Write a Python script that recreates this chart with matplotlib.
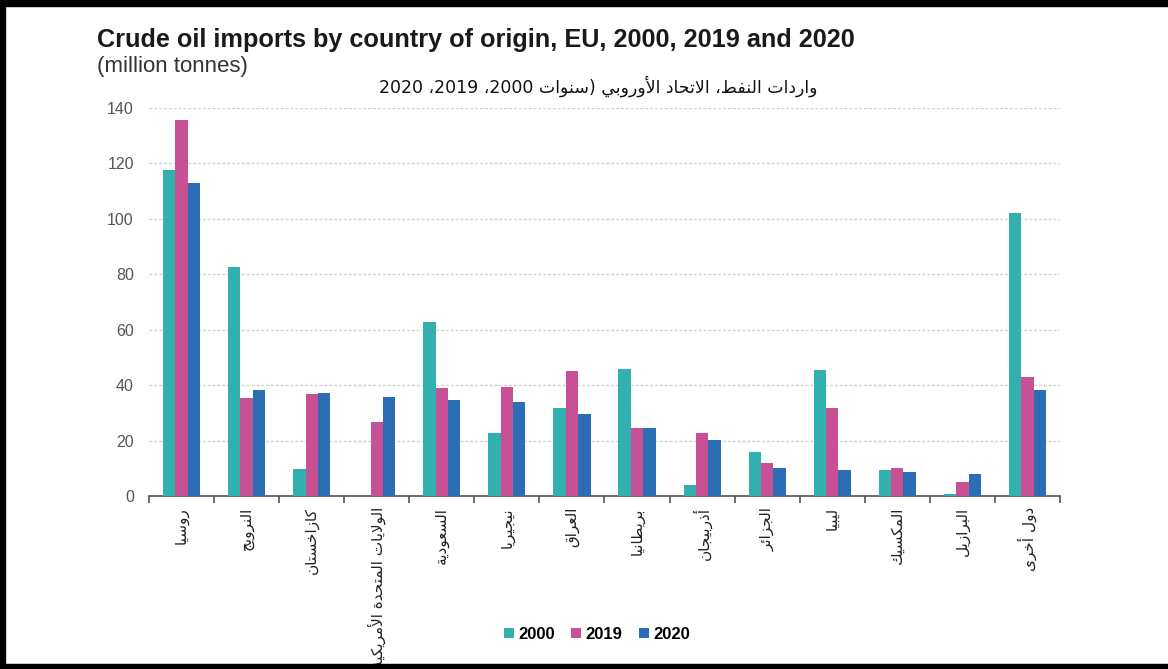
import re
import matplotlib
matplotlib.use('Agg')
import matplotlib.pyplot as plt
import numpy as np
from matplotlib.patches import Rectangle

# --- data (million tonnes) ---
countries = ['روسيا', 'النرويج', 'كازاخستان', 'الولايات المتحدة الأمريكية', 'السعودية',
             'نيجيريا', 'العراق', 'بريطانيا', 'أذربيجان', 'الجزائر', 'ليبيا',
             'المكسيك', 'البرازيل', 'دول أخرى']
years = ['2000', '2019', '2020']
v2000 = [117.6, 82.5, 9.6, 0.0, 62.9, 22.6, 31.6, 45.9, 3.8, 16.0, 45.5, 9.4, 0.7, 102.0]
v2019 = [135.7, 35.3, 36.8, 26.7, 39.1, 39.5, 45.1, 24.7, 22.9, 12.0, 31.6, 10.1, 5.2, 42.8]
v2020 = [112.8, 38.3, 37.3, 35.6, 34.6, 33.9, 29.5, 24.7, 20.2, 10.1, 9.4, 8.7, 7.8, 38.3]
colors = ['#32B0B0', '#C85094', '#2B6EB4']

title_en = 'Crude oil imports by country of origin, EU, 2000, 2019 and 2020'
subtitle = '(million tonnes)'
title_ar = 'واردات النفط، الاتحاد الأوروبي (سنوات 2000، 2019، 2020'

# --- tiny arabic shaper (matplotlib has no bidi / joining) ---
# isolated, final, initial, medial
FORMS = {
    'ا': ('\uFE8D', '\uFE8E', None, None),
    'أ': ('\uFE83', '\uFE84', None, None),
    'إ': ('\uFE87', '\uFE88', None, None),
    'آ': ('\uFE81', '\uFE82', None, None),
    'ب': ('\uFE8F', '\uFE90', '\uFE91', '\uFE92'),
    'ة': ('\uFE93', '\uFE94', None, None),
    'ت': ('\uFE95', '\uFE96', '\uFE97', '\uFE98'),
    'ج': ('\uFE9D', '\uFE9E', '\uFE9F', '\uFEA0'),
    'ح': ('\uFEA1', '\uFEA2', '\uFEA3', '\uFEA4'),
    'خ': ('\uFEA5', '\uFEA6', '\uFEA7', '\uFEA8'),
    'د': ('\uFEA9', '\uFEAA', None, None),
    'ذ': ('\uFEAB', '\uFEAC', None, None),
    'ر': ('\uFEAD', '\uFEAE', None, None),
    'ز': ('\uFEAF', '\uFEB0', None, None),
    'س': ('\uFEB1', '\uFEB2', '\uFEB3', '\uFEB4'),
    'ط': ('\uFEC1', '\uFEC2', '\uFEC3', '\uFEC4'),
    'ع': ('\uFEC9', '\uFECA', '\uFECB', '\uFECC'),
    'ف': ('\uFED1', '\uFED2', '\uFED3', '\uFED4'),
    'ق': ('\uFED5', '\uFED6', '\uFED7', '\uFED8'),
    'ك': ('\uFED9', '\uFEDA', '\uFEDB', '\uFEDC'),
    'ل': ('\uFEDD', '\uFEDE', '\uFEDF', '\uFEE0'),
    'م': ('\uFEE1', '\uFEE2', '\uFEE3', '\uFEE4'),
    'ن': ('\uFEE5', '\uFEE6', '\uFEE7', '\uFEE8'),
    'و': ('\uFEED', '\uFEEE', None, None),
    'ى': ('\uFEEF', '\uFEF0', None, None),
    'ي': ('\uFEF1', '\uFEF2', '\uFEF3', '\uFEF4'),
    'ئ': ('\uFE89', '\uFE8A', '\uFE8B', '\uFE8C'),
}
LAM_ALEF = {
    'آ': ('\uFEF5', '\uFEF6', None, None),
    'أ': ('\uFEF7', '\uFEF8', None, None),
    'إ': ('\uFEF9', '\uFEFA', None, None),
    'ا': ('\uFEFB', '\uFEFC', None, None),
}
MIRROR = {'(': ')', ')': '('}


def shape(text):
    seq = []
    i = 0
    while i < len(text):
        c = text[i]
        if c == 'ل' and i + 1 < len(text) and text[i + 1] in LAM_ALEF:
            seq.append(LAM_ALEF[text[i + 1]])
            i += 2
        elif c in FORMS:
            seq.append(FORMS[c])
            i += 1
        else:
            seq.append(MIRROR.get(c, c))
            i += 1
    out = []
    for k, e in enumerate(seq):
        if isinstance(e, str):
            out.append(e)
            continue
        prev = seq[k - 1] if k > 0 else None
        nxt = seq[k + 1] if k + 1 < len(seq) else None
        jp = isinstance(prev, tuple) and prev[2] is not None
        jn = isinstance(nxt, tuple) and e[2] is not None
        if jp and jn:
            out.append(e[3])
        elif jp:
            out.append(e[1])
        elif jn:
            out.append(e[2])
        else:
            out.append(e[0])
    vis = ''.join(out)[::-1]
    return re.sub(r'[0-9]+', lambda m: m.group(0)[::-1], vis)


plt.rcParams['font.family'] = ['Liberation Sans', 'DejaVu Sans']

fig = plt.figure(figsize=(11.68, 6.69), dpi=100)
ax = fig.add_axes([0.1276, 0.2586, 0.7799, 0.5800])

x = np.arange(len(countries))
w = 0.19
for j, (vals, c) in enumerate(zip([v2000, v2019, v2020], colors)):
    ax.bar(x + (j - 1) * w, vals, width=w, color=c, label=years[j], zorder=3)

ax.set_xlim(-0.5, len(countries) - 0.5)
ax.set_ylim(0, 140)
ax.set_yticks(np.arange(0, 141, 20))
ax.yaxis.grid(True, color='#d0d0d0', linestyle=(0, (2, 1.5)), linewidth=1.0, zorder=0)
ax.tick_params(axis='y', length=0, pad=11, labelsize=11.5, labelcolor='#555555')

for s in ['top', 'right', 'left']:
    ax.spines[s].set_visible(False)
ax.spines['bottom'].set_color('#555555')
ax.spines['bottom'].set_linewidth(1.2)

ax.set_xticks(x)
ax.set_xticklabels([shape(c) for c in countries], rotation=90, fontsize=11,
                   family='DejaVu Sans', va='top', color='#222222')
ax.tick_params(axis='x', which='major', length=0, pad=8)
ax.set_xticks(np.arange(-0.5, len(countries), 1), minor=True)
ax.tick_params(axis='x', which='minor', length=5, width=1.2, color='#555555', direction='out')

# titles
fig.text(0.083, 0.930, title_en, fontsize=18.2, fontweight='bold', color='#1a1a1a')
fig.text(0.083, 0.893, subtitle, fontsize=16, color='#333333')
fig.text(0.7003, 0.862, shape(title_ar), fontsize=12.5, ha='right',
         family=['DejaVu Sans'], color='#111111')

fig.legend(loc='center', bbox_to_anchor=(0.511, 0.052), ncol=3, frameon=False,
           handlelength=0.6, handleheight=0.6, handletextpad=0.25, columnspacing=1.0,
           prop={'weight': 'bold', 'size': 12})

# black frame
fig.patches.append(Rectangle((0, 0.9915), 1, 0.0085, transform=fig.transFigure, color='black'))
fig.patches.append(Rectangle((0, 0), 1, 0.007, transform=fig.transFigure, color='black'))
fig.patches.append(Rectangle((0, 0), 0.0045, 1, transform=fig.transFigure, color='black'))

fig.savefig('out.png', dpi=100)
